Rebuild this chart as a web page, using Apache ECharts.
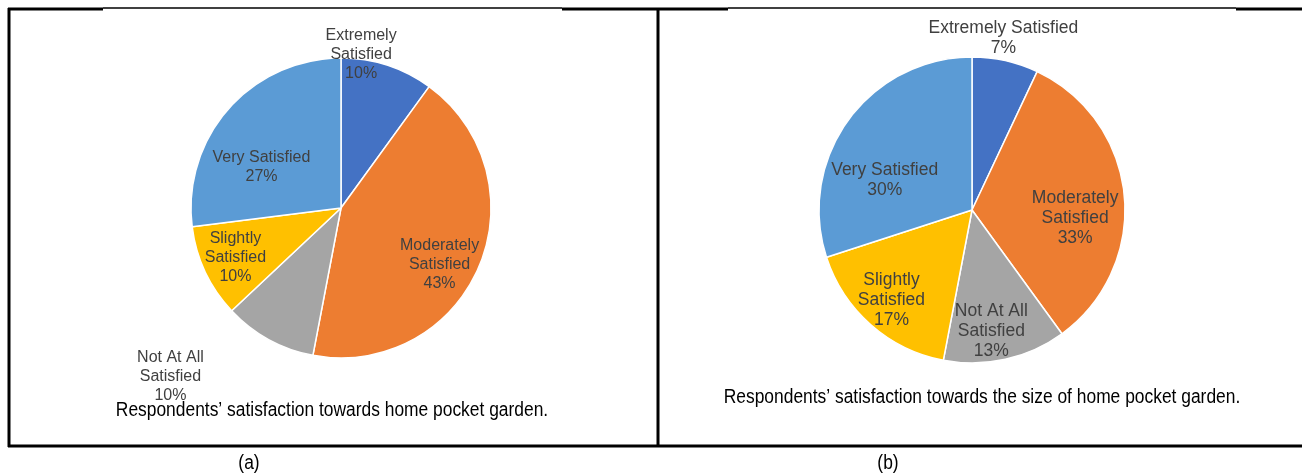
<!DOCTYPE html>
<html>
<head>
<meta charset="utf-8">
<script src="https://cdn.jsdelivr.net/npm/echarts@6/dist/echarts.min.js"></script>
<style>
  html, body { margin: 0; padding: 0; background: #fff; }
  #chart { width: 1302px; height: 473px; }
</style>
</head>
<body>
<div id="chart"></div>
<script>
// categories (clockwise from 12 o'clock)
const categories = ['Extremely Satisfied', 'Moderately Satisfied', 'Not At All Satisfied', 'Slightly Satisfied', 'Very Satisfied']
// label text as shown in each pie (line breaks)
const labelsA = ['Extremely\nSatisfied', 'Moderately\nSatisfied', 'Not At All\nSatisfied', 'Slightly\nSatisfied', 'Very Satisfied']
const labelsB = ['Extremely Satisfied', 'Moderately\nSatisfied', 'Not At All\nSatisfied', 'Slightly\nSatisfied', 'Very Satisfied']
// percentages
const valuesA = [10, 43, 10, 10, 27]
const valuesB = [7, 33, 13, 17, 30]
const colors = ['#4472C4', '#ED7D31', '#A5A5A5', '#FFC000', '#5B9BD5']

const captionA = 'Respondents\u2019 satisfaction towards home pocket garden.'
const captionB = 'Respondents\u2019 satisfaction towards the size of home pocket garden.'

// label nudges (Excel best-fit placement)
const offsetsA = [[-4, -79], [27, 26], [-133, 100], [-35, 16], [-21, 11]]
const offsetsB = [[14, -94], [24, 16], [2, 44], [-28, 31], [-23, 17]]

const chart = echarts.init(document.getElementById('chart'))

const makeData = (values, labels, offsets) => values.map((v, i) => ({
  name: categories[i],
  value: v,
  itemStyle: { color: colors[i] },
  label: { offset: offsets[i], formatter: labels[i] + '\n{d}%' }
}))

// no narrow font installed, so squeeze the regular one
const capFont = "20px 'Liberation Sans', Arial, sans-serif"

const pieBase = {
  type: 'pie',
  startAngle: 90,
  clockwise: true,
  animation: false,
  silent: true,
  itemStyle: { borderColor: '#fff', borderWidth: 1.5 },
  labelLine: { show: false },
  emphasis: { disabled: true }
}

const line = (x1, y1, x2, y2, w) => ({
  type: 'line',
  shape: { x1, y1, x2, y2 },
  style: { stroke: '#000', lineWidth: w }
})

const caption = (text, x, y) => ({
  type: 'text', x, y, scaleX: 0.87,
  style: { text, font: capFont, fill: '#000', align: 'center', verticalAlign: 'middle' }
})

const option = {
  backgroundColor: '#fff',
  graphic: [
    // table frame
    line(8, 9, 103, 9, 3),
    line(103, 8, 562, 8, 1.5),
    line(562, 9, 728, 9, 3),
    line(728, 8, 1236, 8, 1.5),
    line(1236, 9, 1302, 9, 3),
    line(9, 8, 9, 447, 3),
    line(658, 8, 658, 447, 3),
    line(8, 446, 1302, 446, 3),
    caption(captionA, 332, 410),
    caption(captionB, 982, 397),
    caption('(a)', 249, 463),
    caption('(b)', 888, 463)
  ],
  series: [
    {
      ...pieBase,
      center: [341, 208],
      radius: 150,
      label: {
        show: true, position: 'inside', color: '#404040',
        fontFamily: 'Liberation Sans, Arial, sans-serif', fontSize: 16, lineHeight: 19
      },
      data: makeData(valuesA, labelsA, offsetsA)
    },
    {
      ...pieBase,
      center: [972, 210],
      radius: 153,
      label: {
        show: true, position: 'inside', color: '#404040',
        fontFamily: 'Liberation Sans, Arial, sans-serif', fontSize: 17.5, lineHeight: 20
      },
      data: makeData(valuesB, labelsB, offsetsB)
    }
  ]
}

chart.setOption(option)
</script>
</body>
</html>
